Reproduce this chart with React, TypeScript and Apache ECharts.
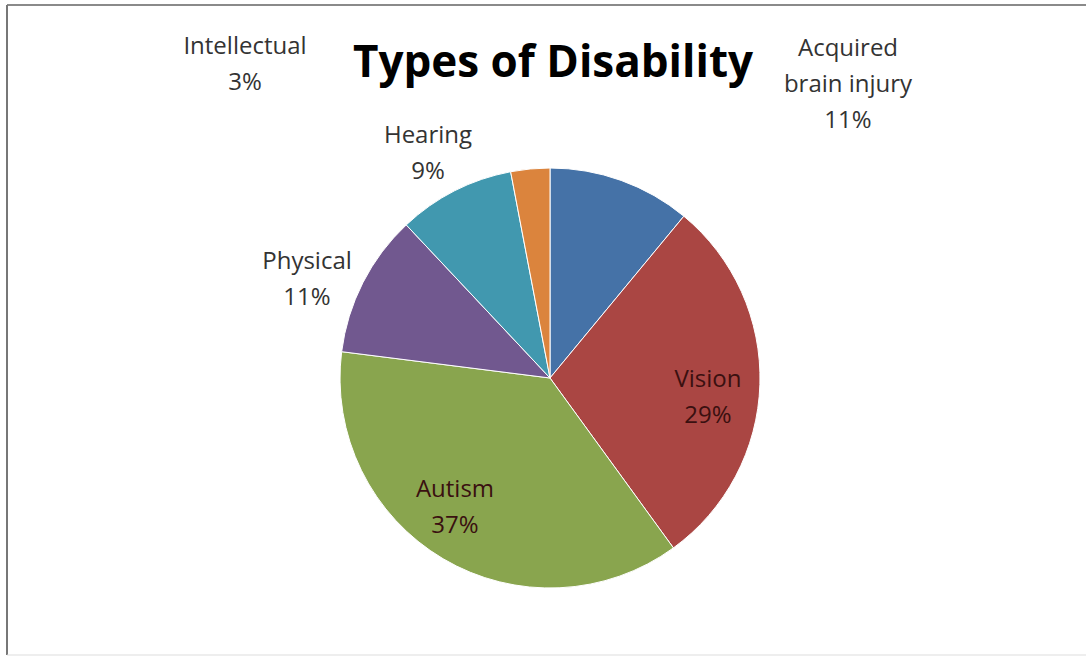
import React, { useEffect, useRef } from "react";
import * as echarts from "echarts";

const categories = ["Acquired\nbrain injury", "Vision", "Autism", "Physical", "Hearing", "Intellectual"];
const values = [11, 29, 37, 11, 9, 3];
const colors = ["#4572A7", "#AA4643", "#89A54E", "#71588F", "#4198AF", "#DB843D"];
const labelSpots: [number, number][] = [
  [848, 82],
  [708, 395],
  [455, 505],
  [307, 277],
  [428, 151],
  [245, 62],
];

export default function App() {
  const ref = useRef<HTMLDivElement>(null);
  useEffect(() => {
    document.body.style.margin = "0";
    const chart = echarts.init(ref.current!, null, { renderer: "svg" });
    const font = "'Open Sans', 'Noto Sans', sans-serif";
    chart.setOption({
      animation: false,
      backgroundColor: "#ffffff",
      title: {
        text: "Types of Disability",
        left: 548,
        top: 33,
        textAlign: "center",
        textStyle: { fontFamily: font, fontSize: 44, fontWeight: "bold", color: "#000" },
      },
      graphic: [
        { type: "line", shape: { x1: 7, y1: 5, x2: 1086, y2: 5 }, style: { stroke: "#8a8a8a", lineWidth: 2 } },
        { type: "line", shape: { x1: 7, y1: 5, x2: 7, y2: 655 }, style: { stroke: "#777", lineWidth: 2 } },
        { type: "line", shape: { x1: 7, y1: 655, x2: 1086, y2: 655 }, style: { stroke: "#dddddd", lineWidth: 1 } },
      ],
      series: [
        {
          type: "pie",
          center: [550, 378],
          radius: 210,
          startAngle: 90,
          clockwise: true,
          avoidLabelOverlap: false,
          itemStyle: { borderColor: "#ffffff", borderWidth: 1 },
          label: {
            show: true,
            formatter: (p: any) => `${p.name}\n${p.value}%`,
            fontFamily: font,
            fontSize: 24,
            lineHeight: 36,
            color: "#333",
            align: "center",
          },
          labelLine: { show: false },
          labelLayout: (p: any) => ({
            x: labelSpots[p.dataIndex][0],
            y: labelSpots[p.dataIndex][1],
            align: "center",
            verticalAlign: "middle",
          }),
          data: categories.map((c, i) => ({
            name: c,
            value: values[i],
            itemStyle: { color: colors[i] },
            label: i === 1 || i === 2 ? { color: "#3a1010" } : {},
          })),
        },
      ],
    });
    return () => chart.dispose();
  }, []);
  return <div ref={ref} style={{ width: 1086, height: 657 }} />;
}
